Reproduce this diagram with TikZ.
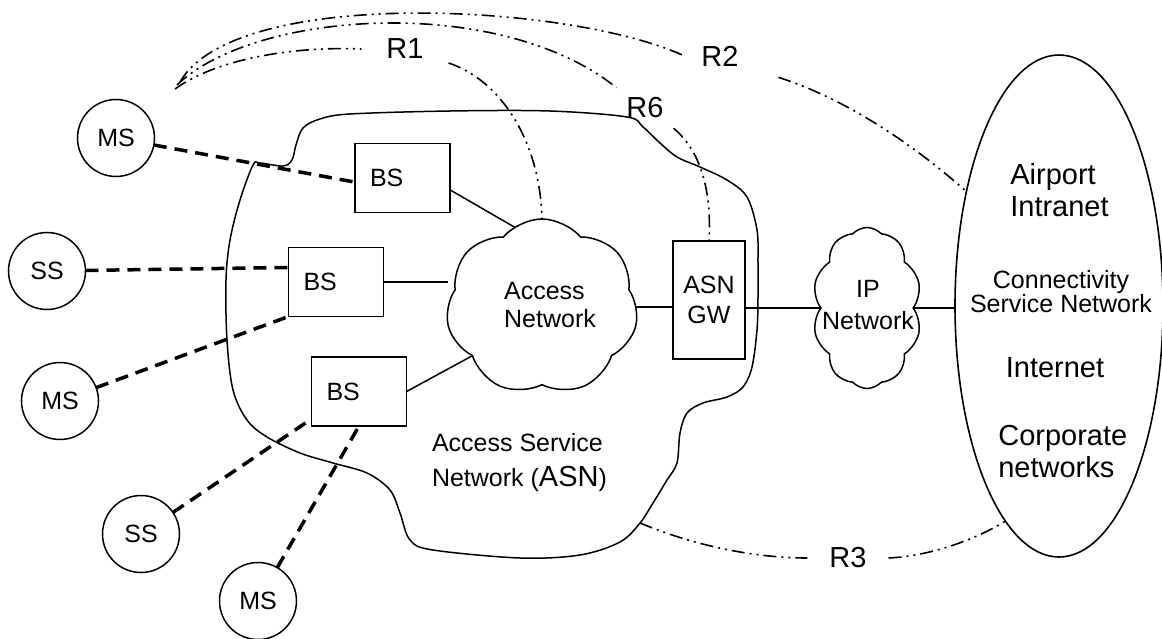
\documentclass[tikz,border=0pt]{standalone}
\usepackage{fontspec}
\setmainfont{Liberation Sans}
\usetikzlibrary{shapes.symbols,shapes.geometric}

\newcommand{\smallfnt}{\fontsize{25}{28}\selectfont}
\newcommand{\bigfnt}{\fontsize{29}{32}\selectfont}

\begin{document}
\begin{tikzpicture}[x=1pt, y=-1pt,
  every node/.style={outer sep=0pt},
  station/.style={circle, draw, line width=1.5pt, minimum size=77pt, inner sep=0pt, font=\smallfnt},
  bsbox/.style={draw, line width=1.8pt, minimum height=69pt, text width=65pt, inner xsep=15pt, align=left, font=\smallfnt},
  netcloud/.style={cloud, draw, line width=1.5pt, cloud ignores aspect},
  link/.style={line width=1.5pt},
  radio/.style={line width=3.5pt, dash pattern=on 13pt off 8pt},
  refpoint/.style={line width=1.6pt, dash pattern=on 13pt off 5pt on 2pt off 5pt on 2pt off 5pt},
  rlabel/.style={font=\bigfnt, inner ysep=4pt}]

  \useasboundingbox (0,0) rectangle (1162,639);

  % access service network
  \draw[link] plot[smooth cycle, tension=0.55] coordinates {
    (253,165) (260,163) (283,166) (292,160) (296,145) (303,128) (320,119) (350,114)
    (450,111) (550,111) (627,117) (643,127) (660,143) (677,157) (700,167) (727,180)
    (747,197) (757,230) (758,263) (758,297) (757,330) (752,367) (743,387) (727,397)
    (703,403) (687,413) (680,433) (677,463) (667,480) (653,503) (640,523) (620,542)
    (580,555) (520,558) (433,550) (410,540) (400,513) (390,490) (367,473) (333,463)
    (300,453) (267,437) (247,420) (233,390) (227,340) (226,280) (230,240) (240,200)};
  \coordinate (asnbottom) at (640,523);
  \node[anchor=west, inner sep=0pt, align=left, font=\fontsize{25}{35}\selectfont] (asnlabel) at (432,463)
    {Access Service\\Network ({\bigfnt ASN})};

  % stations
  \node[station] (MS1) at (116,138) {MS};
  \node[station] (SS1) at (47,271) {SS};
  \node[station] (MS2) at (60,401) {MS};
  \node[station] (SS2) at (141,534) {SS};
  \node[station] (MS3) at (258,601) {MS};

  \node[bsbox] (BS1) at (402.5,178) {BS};
  \node[bsbox] (BS2) at (336,282) {BS};
  \node[bsbox] (BS3) at (359,391.5) {BS};

  \node[netcloud, cloud puffs=7, cloud puff arc=100, minimum width=192pt, minimum height=176pt] (AN) at (542,307) {};
  \node[align=left, font=\fontsize{25}{28}\selectfont] (ANlabel) at (550,305) {Access\\Network};

  \node[draw, line width=1.8pt, minimum width=72pt, minimum height=118pt, align=center,
        font=\fontsize{25}{30}\selectfont] (GW) at (709,300) {ASN\\GW};

  \node[netcloud, cloud puffs=10, cloud puff arc=95, minimum width=109pt, minimum height=161pt] (IP) at (867,308) {};
  \node[align=center, font=\fontsize{25}{32}\selectfont] (IPlabel) at (868,305) {IP\\Network};

  \node[ellipse, draw, line width=1.6pt, minimum width=208pt, minimum height=502pt] (CSN) at (1059,306) {};
  \node[anchor=west, align=left, font=\bigfnt] (airport) at (1007,190) {Airport\\Intranet};
  \node[align=center, font=\fontsize{25}{24}\selectfont] (CSNlabel) at (1061,292) {Connectivity\\Service Network};
  \node[font=\bigfnt] (internet) at (1055,368) {Internet};
  \node[anchor=west, align=left, font=\bigfnt] (corp) at (995,452) {Corporate\\networks};

  % radio links
  \draw[radio] (MS1) -- (BS1.185);
  \draw[radio] (SS1) -- (BS2.163);
  \draw[radio] (MS2) -- (BS2.south west);
  \draw[radio] (SS2) -- (BS3.210);
  \draw[radio] (MS3) -- (BS3.south);

  % wired links
  \draw[link] (BS1.-14) -- (AN.109);
  \draw[link] (BS2.east) -- (BS2.east -| AN.west);
  \draw[link] (BS3.east) -- (AN.215);
  \draw[link] (AN.east) -- (AN.east -| GW.west);
  \draw[link] (GW.east |- IP.west) -- (IP.west);
  \draw[link] (IP.east) -- (IP.east -| CSN.west);

  % reference points
  \coordinate (r1start) at (175,89);
  \coordinate (r6start) at (177,85);
  \coordinate (r2start) at (180,82);
  \node[rlabel, inner xsep=25pt] (R1) at (405,49) {R1};
  \node[rlabel, inner sep=10pt] (R6) at (645,108) {R6};
  \node[rlabel, inner xsep=17pt] (R2) at (720,56) {R2};
  \node[rlabel, inner xsep=22pt] (R3) at (848,558) {R3};

  \draw[refpoint] (r1start) .. controls (215,60) and (290,46) .. (R1.west);
  \draw[refpoint] (R1.south east) .. controls (500,80) and (540,140) .. (AN.north);
  \draw[refpoint] (r6start) .. controls (255,10) and (500,-6) .. (R6.north west);
  \draw[refpoint] (R6.south east) .. controls (700,150) and (712,190) .. (GW.north);
  \draw[refpoint] (r2start) .. controls (235,-14) and (570,3) .. (R2.west);
  \draw[refpoint, shorten <=24pt] (R2.south east) .. controls (850,100) and (920,150) .. (CSN.129);
  \draw[refpoint] (asnbottom) .. controls (700,548) and (760,558) .. (R3.west);
  \draw[refpoint] (R3.east) .. controls (930,556) and (975,540) .. (CSN.256);

\end{tikzpicture}
\end{document}
